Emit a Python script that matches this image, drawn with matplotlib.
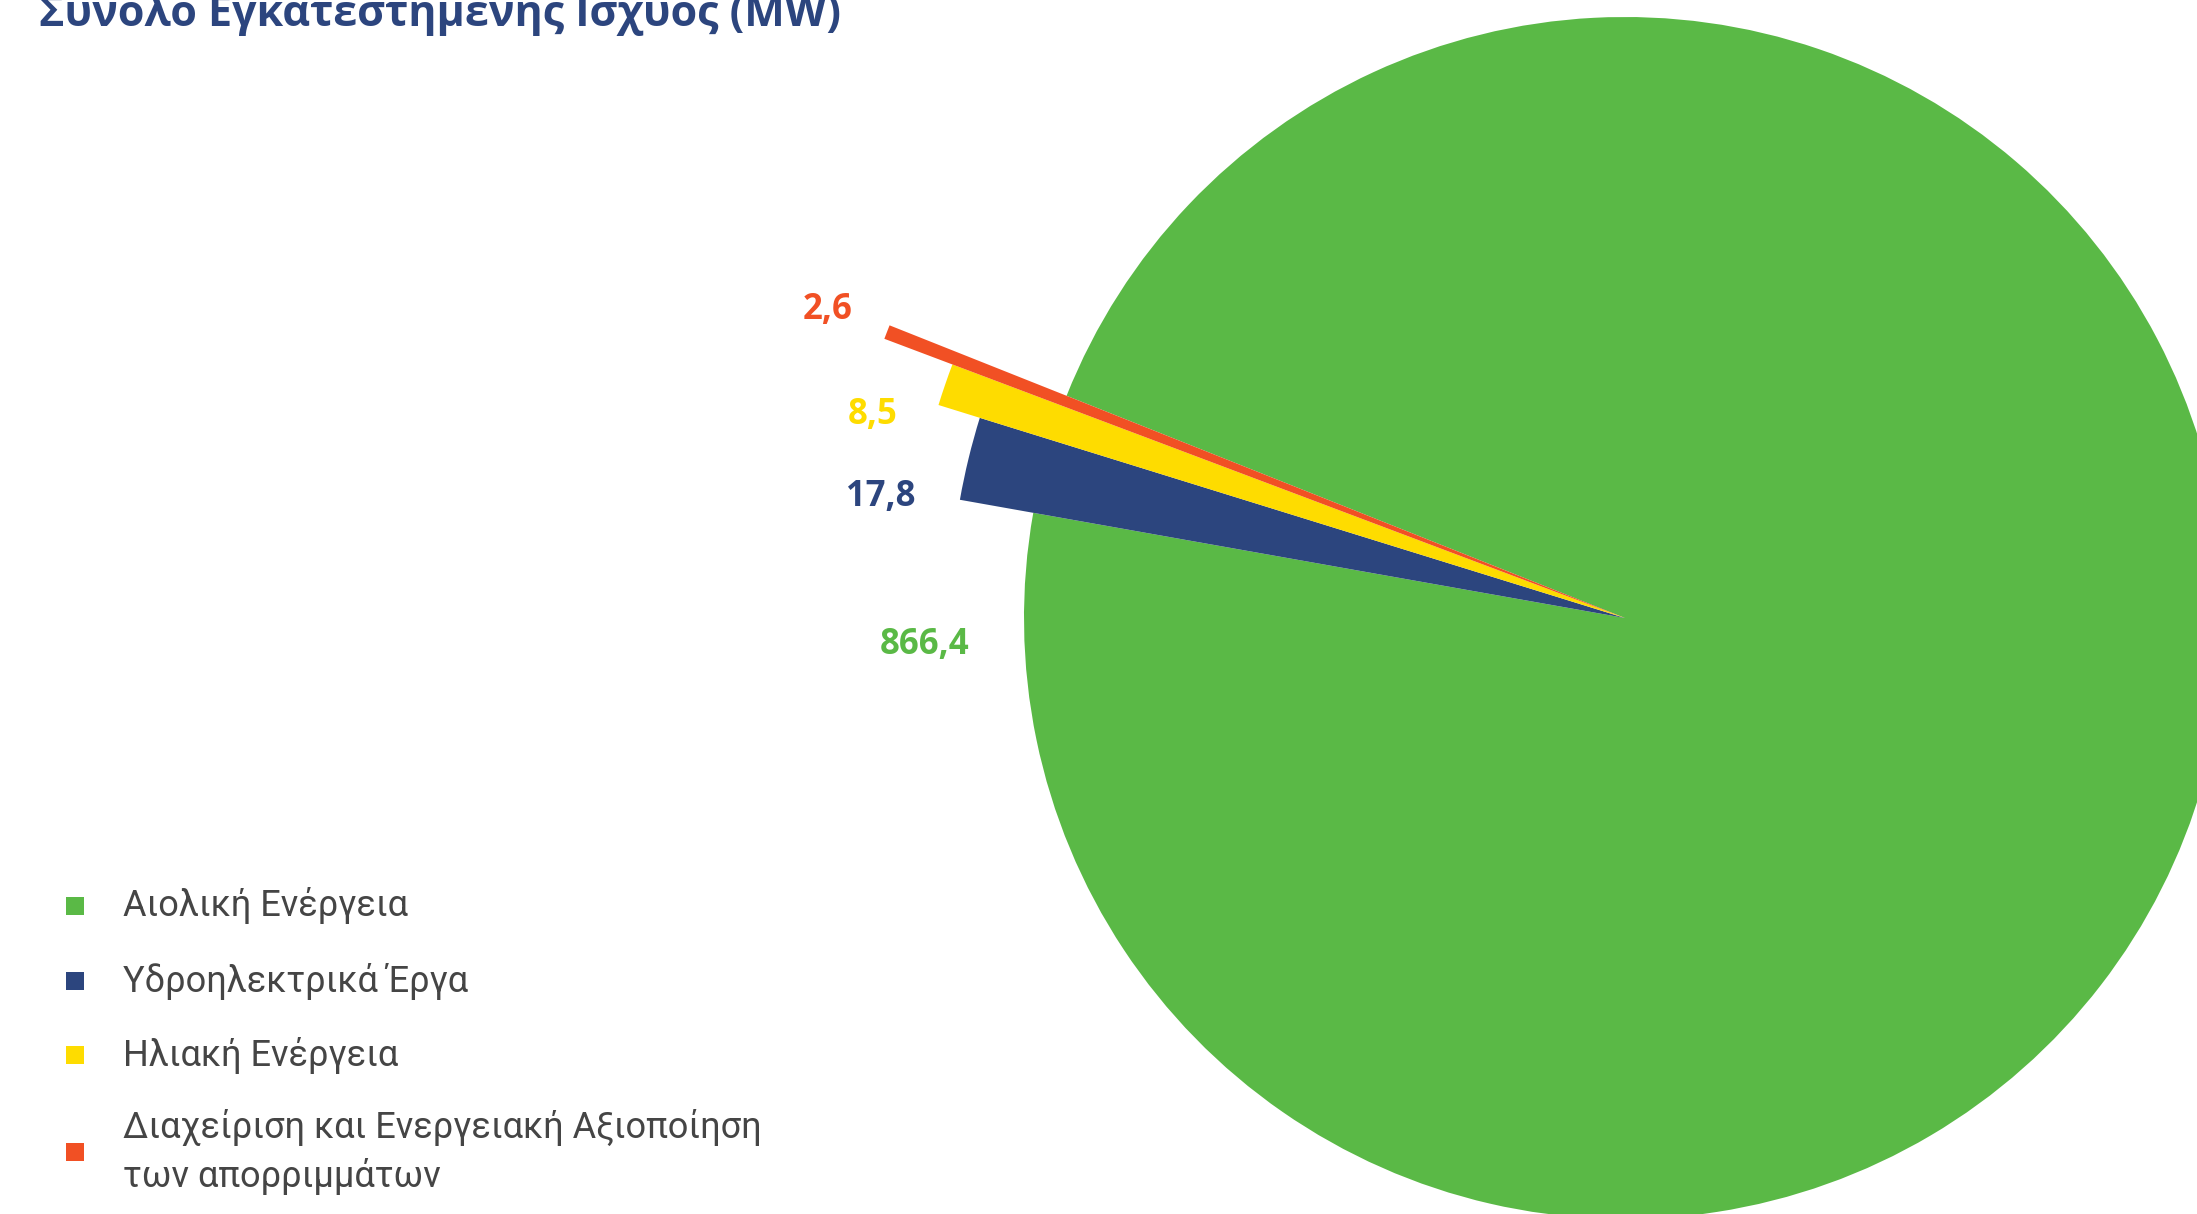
"""
Σύνολο εγκατεστημένης ισχύος ανά τεχνολογία — πίτα με τονισμένες μικρές φέτες.
"""

import matplotlib
matplotlib.use("Agg")
import matplotlib.pyplot as plt
from matplotlib.patches import Rectangle

TITLE = "Σύνολο Εγκατεστημένης Ισχύος (MW)"
CATEGORIES = [
    "Αιολική Ενέργεια",
    "Υδροηλεκτρικά Έργα",
    "Ηλιακή Ενέργεια",
    "Διαχείριση και Ενεργειακή Αξιοποίηση\nτων απορριμμάτων",
]
VALUES_MW = [866.4, 17.8, 8.5, 2.6]
VALUE_LABELS = ["866,4", "17,8", "8,5", "2,6"]
COLORS = ["#5ab946", "#2c457e", "#fedc00", "#f15024"]

W, H = 2197, 1214
NAVY = "#2c457e"
TEXT_GREY = "#454545"

fig = plt.figure(figsize=(W / 100, H / 100), dpi=100)
ax = fig.add_axes([0, 0, 1, 1])

# pie in pixel units (y measured from the top, flipped below)
cx, cy, r0 = 1625, 618, 601
wedges, _ = ax.pie(
    VALUES_MW,
    colors=COLORS,
    startangle=158.3,
    counterclock=False,
    center=(cx, H - cy),
    radius=r0,
    wedgeprops=dict(linewidth=0),
)

# the small slices reach further out than the main one
scale = [1.0, 1.124, 1.196, 1.317]
for w, s in zip(wedges, scale):
    w.set_radius(r0 * s)

ax.set_xlim(0, W)
ax.set_ylim(0, H)
ax.set_aspect("equal")
ax.axis("off")


def py(y):
    return H - y


label_pos = [(925, 645), (881, 497), (873, 415), (828, 310)]
for txt, (x, y), c in zip(VALUE_LABELS, label_pos, COLORS):
    ax.text(x, py(y), txt, color=c, fontsize=25, fontweight="bold",
            ha="center", va="center", family=["Open Sans", "DejaVu Sans"])

ax.text(39, py(26), TITLE, color=NAVY, fontsize=31, fontweight="bold",
        ha="left", va="baseline", family=["Open Sans", "DejaVu Sans"])

# legend drawn by hand: squares with labels
leg_y = [906, 981, 1055, 1152]
sq = 18
for lab, y, c in zip(CATEGORIES, leg_y, COLORS):
    ax.add_patch(Rectangle((75 - sq / 2, py(y) - sq / 2), sq, sq, color=c, lw=0))
    ax.text(123, py(y), lab, color=TEXT_GREY, fontsize=26, fontweight="normal",
            ha="left", va="center", linespacing=1.4,
            family=["Roboto", "DejaVu Sans"])

fig.savefig("out.png", dpi=100, facecolor="white")
